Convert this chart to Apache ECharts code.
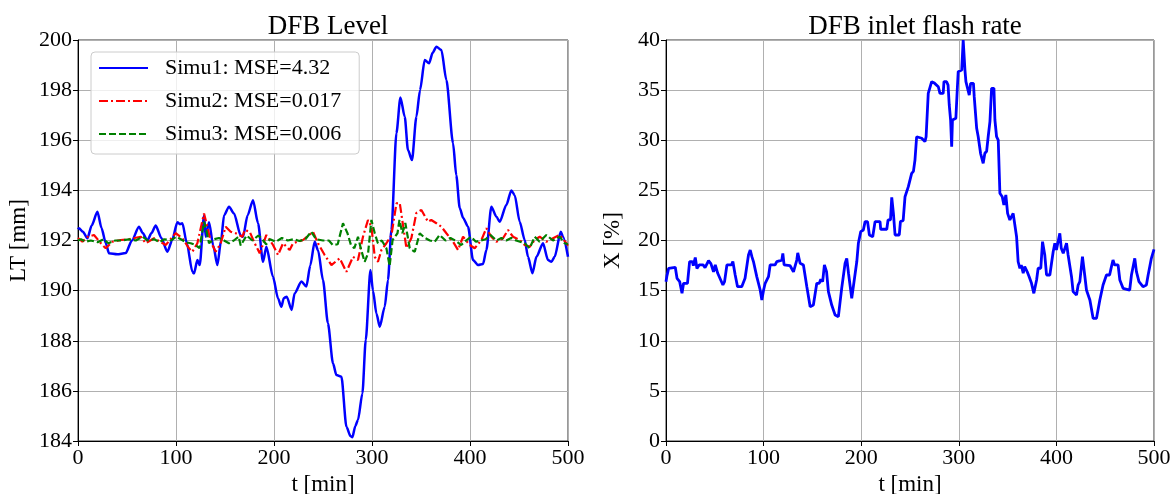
<!DOCTYPE html>
<html><head><meta charset="utf-8">
<script src="https://cdn.jsdelivr.net/npm/echarts@6/dist/echarts.min.js"></script>
<style>html,body{margin:0;padding:0;background:#fff}#c{width:1174px;height:494px}</style>
</head><body><div id="c"></div>
<script>
// ---------- data ----------
const leftTitle = 'DFB Level';
const rightTitle = 'DFB inlet flash rate';
const xName = 't [min]';
const leftYName = 'LT [mm]';
const rightYName = 'X [%]';
const seriesNames = ['Simu1: MSE=4.32', 'Simu2: MSE=0.017', 'Simu3: MSE=0.006'];

const simu1T = [0,1,5,9.6,14,19.8,24,28.3,31.6,40,48.7,55,62.2,66,70.8,75,79.3,85,91.2,96,101.4,104,106.5,111,116.7,118.4,121.8,124.2,128.6,130.3,133.7,138,142.2,146,149,154.1,159.2,166,168.4,173,178.6,183.7,188.8,192.2,199,204.1,207.5,210,213,218,221,228,233,237,241.5,245,250,255,260.2,263.7,268.8,273.9,278,280,283,285.7,290.2,293.6,298.4,301,304.5,307.9,313,316.3,319.8,324.9,329,333.4,336.7,340.8,345.3,349,353.8,358.2,362,365.7,370.8,375.9,382.7,386,389.5,393,398,403.1,408.2,413.3,416.7,421.8,426.9,430.3,437.1,442.2,445.6,450.7,455.8,459.2,463.7,467.8,474.5,479.6,483.1,486.4,492.6,494.9,500];
const simu1V = [192.45,192.49,192.35,192.09,192.6,193.15,192.5,191.9,191.49,191.45,191.5,192.0,192.55,192.3,192.0,192.3,192.6,192.1,191.55,192.0,192.73,192.65,192.69,191.9,190.75,190.69,191.22,191.02,193.0,192.15,192.73,191.8,191.02,192.0,193.0,193.35,193.08,192.2,192.15,193.0,193.61,192.69,191.15,191.75,190.55,189.69,189.36,189.7,189.76,189.23,189.89,190.36,190.16,191.0,191.95,191.6,190.42,188.7,187.1,186.63,186.56,184.57,184.2,184.15,184.6,184.84,185.9,188.03,190.82,190.0,189.09,188.56,189.36,190.42,192.42,196.28,197.71,196.94,195.61,195.21,196.94,198.0,199.2,199.07,199.5,199.73,199.6,198.4,195.88,194.6,193.3,192.9,192.55,191.22,191.02,191.06,191.62,193.35,192.95,192.75,193.42,194.0,193.81,192.75,192.02,191.35,190.69,191.35,191.89,191.22,191.15,191.35,192.35,192.15,191.35];

const simu2T = [0,4.5,10,16.3,24.9,28.3,35.1,43.6,52,64,69.1,77.6,89.5,99.7,106.5,113.3,116.7,121.8,128.6,132,135.4,140.5,145.6,150.7,155.8,160.9,167.8,170.1,175.2,180.3,185.4,192.2,199,204.1,209.2,216,219.4,229.6,239.8,244.9,251.7,258.6,267,273.9,280.6,285.7,290.8,295.9,299.4,302.8,306.1,309.6,314.7,319.8,324.9,328.3,335.1,340.2,345.3,350.4,357.1,360.5,365.7,370.8,375.9,382.7,387.8,392.9,399.7,404.8,411.6,416.7,421.8,426.9,433.7,438.8,443.9,450.7,455.8,460.9,466,471.1,477.9,484.7,491.5,498.4,500];
const simu2V = [192.1,191.95,192.15,192.22,191.82,191.69,191.95,192.02,192.05,192.15,191.89,192.09,191.82,192.29,192.09,191.69,191.55,191.89,193.08,192.55,191.95,191.55,191.89,192.55,192.35,192.29,192.15,192.42,192.35,191.89,191.49,192.22,191.82,191.42,191.89,191.62,191.89,192.02,192.35,191.89,191.42,191.02,191.29,190.75,191.35,191.22,192.15,192.82,192.55,191.35,191.15,191.62,191.89,192.2,193.48,193.5,191.7,192.1,193.1,193.22,192.75,192.82,192.69,192.55,192.29,191.95,191.62,192.15,191.82,191.69,192.02,192.49,192.15,191.95,192.09,192.42,192.15,192.02,191.82,191.75,192.02,192.15,191.95,192.09,192.22,191.89,191.8];

const simu3T = [0,3,8,13,20,26,31,38,45,52,59,66,71,78,83,88,95,100,105,110,115,120,124,128.6,131,133.7,138.8,143.9,149,154,159,164,166,172,178,184,188,192,196,202,208,214,220,226,232,238,243,250,256,260,265,270.4,275,278.5,282,285.7,289,292.5,296,299.4,302.8,306,310,314.7,318,321,326,328,331,334,338.5,343.6,348.7,354,359,364,369,375,380,385,391,396,401,406,411,416,421,427,432,437,442,447,455.8,460.9,466,471,477.9,484.7,491.5,496.6,500];
const simu3V = [192.0,192.05,191.95,192.0,191.93,192.05,191.89,192.0,192.0,192.05,192.0,192.15,192.0,192.05,191.93,192.05,192.0,192.15,192.05,191.93,191.89,191.82,191.69,192.75,192.4,191.89,192.05,192.1,192.0,191.89,192.0,192.15,191.8,192.2,192.0,192.2,192.05,191.85,192.05,191.95,192.1,192.0,192.05,191.98,192.05,192.35,192.05,192.0,192.0,191.82,191.85,192.69,192.29,191.82,191.69,192.15,191.62,191.15,191.49,192.82,192.29,191.89,192.0,191.69,190.98,192.02,192.29,192.82,192.29,192.7,191.69,191.55,192.29,192.1,192.0,191.95,192.22,192.0,192.1,192.0,191.82,192.0,192.15,191.95,192.0,192.05,192.22,192.0,192.1,192.0,192.1,192.0,191.89,191.69,192.15,191.95,192.22,192.0,192.15,191.89,191.85];

const flashT = [0,1,2.7,9.5,11.3,14,16.4,18,22,24.2,27,28,30,31.7,34,38,40,43.6,46,48.7,50.5,53,58.3,60,62.4,67,68.5,70.9,73.3,77.6,81,84.5,86.3,88,89.6,93,96.5,98.2,100,101.6,105,106.7,111.8,113.5,118.7,119.7,121,127,130.6,132.5,134,135,137.4,140.8,144.3,147.7,151,154.5,157,158.6,160.5,162.3,164.5,166.4,169.8,173.3,176.6,180,183.5,185.2,187,190.3,192,195.5,197.1,199.5,202.2,204,206.5,208.4,211.8,214.2,219.3,220,226.2,227.5,230,231.3,233,234.7,239,240.2,243,244.9,246.5,248.3,250,251.7,253.5,255.1,256.8,262,265.3,266.5,268.7,270.5,272.2,275,279,280.7,284,284.8,287.5,289,290.2,291.6,292.7,293.5,297,298.4,299.4,303,304.5,306.3,307.3,309,310.7,312.1,315,315.8,318.3,319.9,322.3,325,326.7,328.5,330.1,331.9,333.6,336,337,338.7,340.4,342.1,344.5,346.2,348.2,350,352.3,355.7,357.5,359.2,360.8,362.6,364,366,367.5,370,372,374.5,376.9,379.7,381.3,384,385.8,388.1,389.9,393.3,395,396.7,398.4,400,403.5,405,407,409,410.4,412,413.7,415.5,417.1,420.6,422.3,424,426.7,429,430.8,434.3,437.6,441.1,443,444.5,446,447.8,451.3,454.5,456.4,458,459.6,463.2,465,468.3,470,475.1,476.9,480.3,482,484.6,488.7,492.2,494,497.3,500];
const flashV = [15.89,16.5,17.22,17.33,16.23,15.9,14.73,15.73,15.73,17.9,17.9,17.5,18.3,17.2,17.56,17.56,17.3,17.98,17.7,16.88,17.56,16.73,15.56,15.9,17.56,17.56,17.9,16.56,15.39,15.39,16.23,18.55,19.05,18.39,17.9,16.4,15.06,14.07,15.06,15.73,16.39,17.56,17.56,17.9,18.05,18.72,17.56,17.5,16.88,16.88,18.05,18.77,17.73,17.56,15.39,13.39,13.56,15.73,15.73,16.13,15.9,17.56,16.9,14.9,13.56,12.56,12.4,15.23,17.73,18.22,16.73,14.23,14.23,17.9,19.72,20.88,21.05,21.88,21.88,20.55,20.38,21.88,21.88,21.12,21.12,22.05,22.05,24.3,22.71,20.55,20.55,21.88,22.0,24.37,24.5,25.37,25.5,26.7,26.9,28.03,30.35,30.2,29.86,30.35,34.68,34.8,35.84,35.7,35.34,34.68,34.68,35.84,35.84,35.5,33.52,32.02,29.36,32.02,32.2,35.01,36.84,37.0,40.0,37.0,35.84,35.7,34.51,35.68,35.68,34.35,31.19,30.35,28.7,27.7,28.7,28.9,30.35,31.85,35.18,35.18,32.02,30.35,30.02,24.71,24.37,23.54,24.54,22.71,22.05,22.71,22.71,20.38,17.88,17.23,17.55,16.73,17.4,16.9,16.4,15.73,14.73,16.06,17.23,17.23,19.88,18.55,16.56,16.56,17.73,18.88,19.72,19.05,20.72,19.22,18.72,18.72,19.72,18.55,18.55,16.39,14.9,14.56,15.56,15.9,18.39,16.56,15.06,14.07,12.24,12.24,12.3,14.07,14.2,15.56,16.56,16.56,17.39,18.05,17.56,17.56,16.06,15.23,15.06,15.06,16.56,18.22,16.89,15.89,15.39,15.56,16.56,18.22,19.12];

// ---------- chart ----------
const FONT = 'Liberation Serif';
const pair = (ts, vs) => ts.map((t, i) => [t, vs[i]]);

function xAx(idx) {
  return {
    gridIndex: idx, type: 'value', min: 0, max: 500, interval: 100,
    name: xName, nameLocation: 'middle', nameGap: 29,
    nameTextStyle: { fontFamily: FONT, fontSize: 23, color: '#000' },
    axisLine: { show: true, lineStyle: { color: '#000', width: 1 } },
    axisTick: { show: true, length: 5, lineStyle: { color: '#000' } },
    axisLabel: { fontFamily: FONT, fontSize: 22, color: '#000', margin: 6 },
    splitLine: { show: true, lineStyle: { color: '#b0b0b0', width: 1 } }
  };
}
function yAx(idx, min, max, interval, name, gap) {
  return {
    gridIndex: idx, type: 'value', min: min, max: max, interval: interval,
    name: name, nameLocation: 'middle', nameGap: gap, nameRotate: 90,
    nameTextStyle: { fontFamily: FONT, fontSize: 23, color: '#000' },
    axisLine: { show: true, lineStyle: { color: '#000', width: 1 } },
    axisTick: { show: true, length: 5, lineStyle: { color: '#000' } },
    axisLabel: { fontFamily: FONT, fontSize: 22, color: '#000', margin: 6 },
    splitLine: { show: true, lineStyle: { color: '#b0b0b0', width: 1 } }
  };
}

const chart = echarts.init(document.getElementById('c'), null, { renderer: 'canvas' });
chart.setOption({
  animation: false,
  backgroundColor: '#fff',
  title: [
    { text: leftTitle, left: 323, top: 8, textAlign: 'center',
      textStyle: { fontFamily: FONT, fontSize: 27, fontWeight: 'normal', color: '#000' } },
    { text: rightTitle, left: 910, top: 8, textAlign: 'center',
      textStyle: { fontFamily: FONT, fontSize: 27, fontWeight: 'normal', color: '#000' } }
  ],
  grid: [
    { left: 78, right: 606, top: 40, bottom: 53, show: true, borderColor: '#333', borderWidth: 1,
      containLabel: false, outerBoundsMode: 'none' },
    { left: 666, right: 20, top: 40, bottom: 53, show: true, borderColor: '#333', borderWidth: 1,
      containLabel: false, outerBoundsMode: 'none' }
  ],
  xAxis: [xAx(0), xAx(1)],
  yAxis: [yAx(0, 184, 200, 2, leftYName, 48), yAx(1, 0, 40, 5, rightYName, 42)],
  legend: {
    data: seriesNames, orient: 'vertical', left: 91, top: 52,
    itemWidth: 49, itemHeight: 14, itemGap: 11,
    padding: [5, 18, 9, 7],
    backgroundColor: 'rgba(255,255,255,0.8)', borderColor: '#cccccc', borderWidth: 1, borderRadius: 4,
    itemStyle: { opacity: 0, color: 'rgba(0,0,0,0)', borderWidth: 0 },
    textStyle: { fontFamily: FONT, fontSize: 22, color: '#000', padding: [0, 0, 0, 12] }
  },
  series: [
    { name: seriesNames[0], type: 'line', xAxisIndex: 0, yAxisIndex: 0, data: pair(simu1T, simu1V),
      showSymbol: false, symbol: 'none', smooth: 0.25, smoothMonotone: 'x',
      color: '#0000ff', lineStyle: { color: '#0000ff', width: 2.5 } },
    { name: seriesNames[1], type: 'line', xAxisIndex: 0, yAxisIndex: 0, data: pair(simu2T, simu2V),
      showSymbol: false, symbol: 'none',
      color: '#ff0000', lineStyle: { color: '#ff0000', width: 2.2, type: [9, 3, 2, 3] } },
    { name: seriesNames[2], type: 'line', xAxisIndex: 0, yAxisIndex: 0, data: pair(simu3T, simu3V),
      showSymbol: false, symbol: 'none',
      color: '#008000', lineStyle: { color: '#008000', width: 2.2, type: [7, 3] } },
    { name: 'flash', type: 'line', xAxisIndex: 1, yAxisIndex: 1, data: pair(flashT, flashV),
      showSymbol: false, symbol: 'none',
      color: '#0000ff', lineStyle: { color: '#0000ff', width: 2.8 } }
  ]
});
</script></body></html>
